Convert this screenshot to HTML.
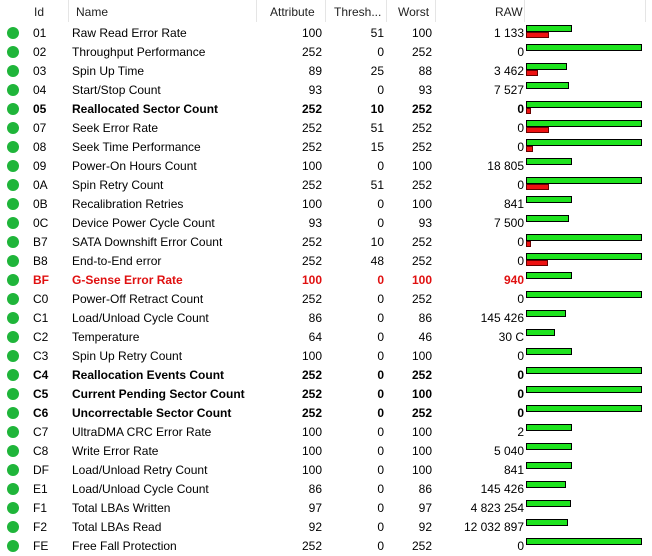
<!DOCTYPE html>
<html><head><meta charset="utf-8"><style>
body{margin:0;width:652px;height:555px;background:#fff;font-family:"Liberation Sans",sans-serif;font-size:12px;color:#000;position:relative;overflow:hidden}
.a{position:absolute;white-space:nowrap;line-height:19px}
.h{position:absolute;top:0;height:22px;line-height:24px;color:#222}
.sep{position:absolute;top:0;width:1px;height:22px;background:#e5e5e5}
.dot{position:absolute;width:12px;height:12px;border-radius:50%;background:#1fb53a}
.g{position:absolute;left:526px;height:5px;background:#1ee31e;border:1px solid #000}
.r{position:absolute;left:526px;height:4px;background:#ee1111;border:1px solid #600}
</style></head><body>
<div class="h" style="left:34px">Id</div>
<div class="h" style="left:76px">Name</div>
<div class="h" style="left:270px">Attribute</div>
<div class="h" style="left:334px">Thresh...</div>
<div class="h" style="left:398px">Worst</div>
<div class="h" style="left:495px">RAW</div>
<div class="sep" style="left:68px"></div>
<div class="sep" style="left:256px"></div>
<div class="sep" style="left:325px"></div>
<div class="sep" style="left:386px"></div>
<div class="sep" style="left:435px"></div>
<div class="sep" style="left:524px"></div>
<div class="sep" style="left:645px"></div>
<div id="rows"></div>
<script>
var d=[["01","Raw Read Error Rate",100,51,100,"1 133"],["02","Throughput Performance",252,0,252,"0"],["03","Spin Up Time",89,25,88,"3 462"],["04","Start/Stop Count",93,0,93,"7 527"],["05","Reallocated Sector Count",252,10,252,"0",1],["07","Seek Error Rate",252,51,252,"0"],["08","Seek Time Performance",252,15,252,"0"],["09","Power-On Hours Count",100,0,100,"18 805"],["0A","Spin Retry Count",252,51,252,"0"],["0B","Recalibration Retries",100,0,100,"841"],["0C","Device Power Cycle Count",93,0,93,"7 500"],["B7","SATA Downshift Error Count",252,10,252,"0"],["B8","End-to-End error",252,48,252,"0"],["BF","G-Sense Error Rate",100,0,100,"940",2],["C0","Power-Off Retract Count",252,0,252,"0"],["C1","Load/Unload Cycle Count",86,0,86,"145 426"],["C2","Temperature",64,0,46,"30 C"],["C3","Spin Up Retry Count",100,0,100,"0"],["C4","Reallocation Events Count",252,0,252,"0",1],["C5","Current Pending Sector Count",252,0,100,"0",1],["C6","Uncorrectable Sector Count",252,0,252,"0",1],["C7","UltraDMA CRC Error Rate",100,0,100,"2"],["C8","Write Error Rate",100,0,100,"5 040"],["DF","Load/Unload Retry Count",100,0,100,"841"],["E1","Load/Unload Cycle Count",86,0,86,"145 426"],["F1","Total LBAs Written",97,0,97,"4 823 254"],["F2","Total LBAs Read",92,0,92,"12 032 897"],["FE","Free Fall Protection",252,0,252,"0"]];
var h="";
d.forEach(function(r,i){var t=24+19*i;var st=r[6]==1?"font-weight:bold;":r[6]==2?"font-weight:bold;color:#e01010;":"";
h+='<div class="dot" style="left:7px;top:'+(t+3)+'px"></div>';
h+='<div class="a" style="'+st+'left:33px;top:'+t+'px">'+r[0]+'</div>';
h+='<div class="a" style="'+st+'left:72px;top:'+t+'px">'+r[1]+'</div>';
h+='<div class="a" style="'+st+'right:'+(652-322)+'px;top:'+t+'px">'+r[2]+'</div>';
h+='<div class="a" style="'+st+'right:'+(652-384)+'px;top:'+t+'px">'+r[3]+'</div>';
h+='<div class="a" style="'+st+'right:'+(652-432)+'px;top:'+t+'px">'+r[4]+'</div>';
h+='<div class="a" style="'+st+'right:'+(652-524)+'px;top:'+t+'px">'+r[5]+'</div>';
var gw=Math.round(r[2]/252*116)-2;h+='<div class="g" style="top:'+(t+1)+'px;width:'+gw+'px"></div>';
if(r[3]>0){var rw=Math.max(2,Math.round(r[3]/252*116)-2);h+='<div class="r" style="top:'+(t+8)+'px;width:'+rw+'px"></div>';}
});
document.getElementById("rows").innerHTML=h;
</script>
</body></html>
